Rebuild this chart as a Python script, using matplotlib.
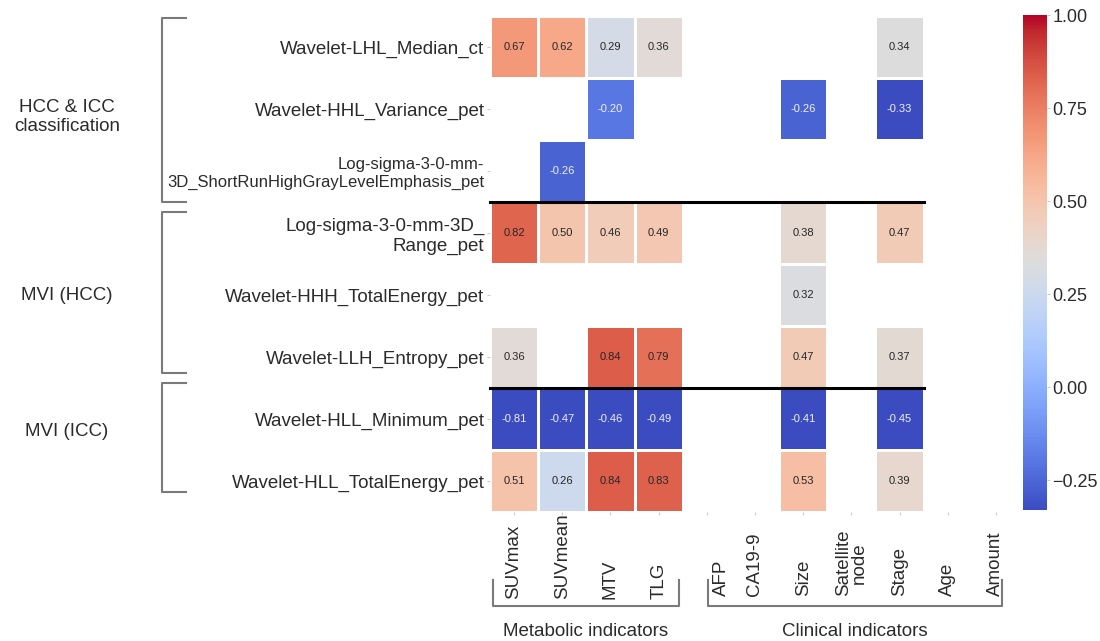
import numpy as np
import matplotlib
matplotlib.use('Agg')
import matplotlib.pyplot as plt
from matplotlib.lines import Line2D
from matplotlib.transforms import blended_transform_factory

plt.rcParams['font.family'] = ['Liberation Sans', 'DejaVu Sans']

# ---------------------------------------------------------------------
# data
row_labels = [
    "Wavelet-LHL_Median_ct",
    "Wavelet-HHL_Variance_pet",
    "Log-sigma-3-0-mm-\n3D_ShortRunHighGrayLevelEmphasis_pet",
    "Log-sigma-3-0-mm-3D_\nRange_pet",
    "Wavelet-HHH_TotalEnergy_pet",
    "Wavelet-LLH_Entropy_pet",
    "Wavelet-HLL_Minimum_pet",
    "Wavelet-HLL_TotalEnergy_pet",
]
col_labels = ["SUVmax", "SUVmean", "MTV", "TLG", "AFP", "CA19-9", "Size",
              "Satellite\nnode", "Stage", "Age", "Amount"]
nan = np.nan
corr = [
    [0.67, 0.62, 0.29, 0.36, nan, nan, nan, nan, 0.34, nan, nan],
    [nan, nan, -0.20, nan, nan, nan, -0.26, nan, -0.33, nan, nan],
    [nan, -0.26, nan, nan, nan, nan, nan, nan, nan, nan, nan],
    [0.82, 0.50, 0.46, 0.49, nan, nan, 0.38, nan, 0.47, nan, nan],
    [nan, nan, nan, nan, nan, nan, 0.32, nan, nan, nan, nan],
    [0.36, nan, 0.84, 0.79, nan, nan, 0.47, nan, 0.37, nan, nan],
    [-0.81, -0.47, -0.46, -0.49, nan, nan, -0.41, nan, -0.45, nan, nan],
    [0.51, 0.26, 0.84, 0.83, nan, nan, 0.53, nan, 0.39, nan, nan],
]
# row groups (first row, last row) and column groups
row_groups = [("HCC & ICC\nclassification", 0, 2), ("MVI (HCC)", 3, 5), ("MVI (ICC)", 6, 7)]
col_groups = [("Metabolic indicators", 0, 3), ("Clinical indicators", 4, 10)]
cbar_ticks = [-0.25, 0.0, 0.25, 0.50, 0.75, 1.00]
# ---------------------------------------------------------------------

W, H = 1100, 641
TXT = '#2b2b2b'
FS = 13.5

# bracket spans in pixels (top, bottom) and group label centres
row_brackets = [(18, 202), (212, 373), (383, 492)]
row_group_y = [117, 295, 432]


def fx(x):
    return x / W


def fy(y):
    return 1 - y / H


fig = plt.figure(figsize=(W / 100, H / 100), dpi=100)

# heatmap
ax = fig.add_axes([fx(490), fy(512), 530 / W, 496 / H])
data = np.ma.masked_invalid(np.array(corr))
cmap = plt.get_cmap('coolwarm')
norm = matplotlib.colors.Normalize(vmin=-0.33, vmax=1.0)
nrows, ncols = data.shape
mesh = ax.pcolormesh(np.arange(ncols + 1), np.arange(nrows + 1), data,
                     cmap=cmap, norm=norm, edgecolors='white', linewidth=1)
ax.set_xlim(0, ncols)
ax.set_ylim(nrows, 0)
for s in ax.spines.values():
    s.set_visible(False)

# cell annotations
for i in range(nrows):
    for j in range(ncols):
        v = corr[i][j]
        if np.isnan(v):
            continue
        r, g, b, _ = cmap(norm(v))
        lum = 0.299 * r + 0.587 * g + 0.114 * b
        c = '#f0f0f0' if lum < 0.5 else '#262626'
        ax.text(j + 0.5, i + 0.5, "%.2f" % v, ha='center', va='center',
                fontsize=8, color=c)

# black separators between groups
for name, r0, r1 in row_groups[:-1]:
    ax.plot([0, 9], [r1 + 1, r1 + 1], color='black', lw=2.2, clip_on=False)

# row labels
ax.set_yticks(np.arange(nrows) + 0.5)
ax.set_yticklabels(row_labels, fontsize=FS, color=TXT)
ax.get_yticklabels()[2].set_fontsize(12.0)
ax.tick_params(axis='y', length=2, color='#cccccc', pad=2)

# column labels (rotated, bottom-aligned like the reference)
ax.set_xticks(np.arange(ncols) + 0.5)
ax.set_xticklabels([])
ax.tick_params(axis='x', length=2, color='#cccccc')
tr = blended_transform_factory(ax.transData, fig.transFigure)
for j, lab in enumerate(col_labels):
    nudge = 0.3 if lab == "AFP" else 0.0
    ybase = 599 if j < 4 else 596
    ax.text(j + 0.5 + nudge, fy(ybase), lab, rotation=90, ha='center', va='bottom',
            fontsize=FS, color=TXT, transform=tr, linespacing=0.95)

# colorbar
cax = fig.add_axes([fx(1023), fy(510), 24 / W, 495 / H])
cb = fig.colorbar(mesh, cax=cax)
cb.outline.set_visible(False)
cb.set_ticks(cbar_ticks)
cb.ax.set_yticklabels(["%.2f" % t if t >= 0 else "\u2212%.2f" % -t for t in cbar_ticks])
cb.ax.tick_params(labelsize=13, length=2, pad=2, color='#cccccc', labelcolor=TXT)

# left brackets for row groups
brk = '#7a7a7a'
for (name, r0, r1), (top, bot), yc in zip(row_groups, row_brackets, row_group_y):
    fig.add_artist(Line2D([fx(186), fx(162), fx(162), fx(186)],
                          [fy(top), fy(top), fy(bot), fy(bot)],
                          color=brk, lw=1.5))
    fig.text(fx(67), fy(yc), name, ha='center', va='center',
             fontsize=FS, color=TXT, linespacing=1.2)

# bottom brackets for column groups
col_w = 530 / ncols
for name, c0, c1 in col_groups:
    left = 490 + c0 * col_w + (3 if c0 == 0 else 25)
    right = 490 + (c1 + 1) * col_w - (4 if c1 == 3 else 18)
    fig.add_artist(Line2D([fx(left), fx(left), fx(right), fx(right)],
                          [fy(580), fy(606), fy(606), fy(580)],
                          color=brk, lw=1.5))
    fig.text(fx((left + right) / 2), fy(632), name, ha='center', va='center',
             fontsize=FS, color=TXT)

fig.savefig("out.png", dpi=100)
